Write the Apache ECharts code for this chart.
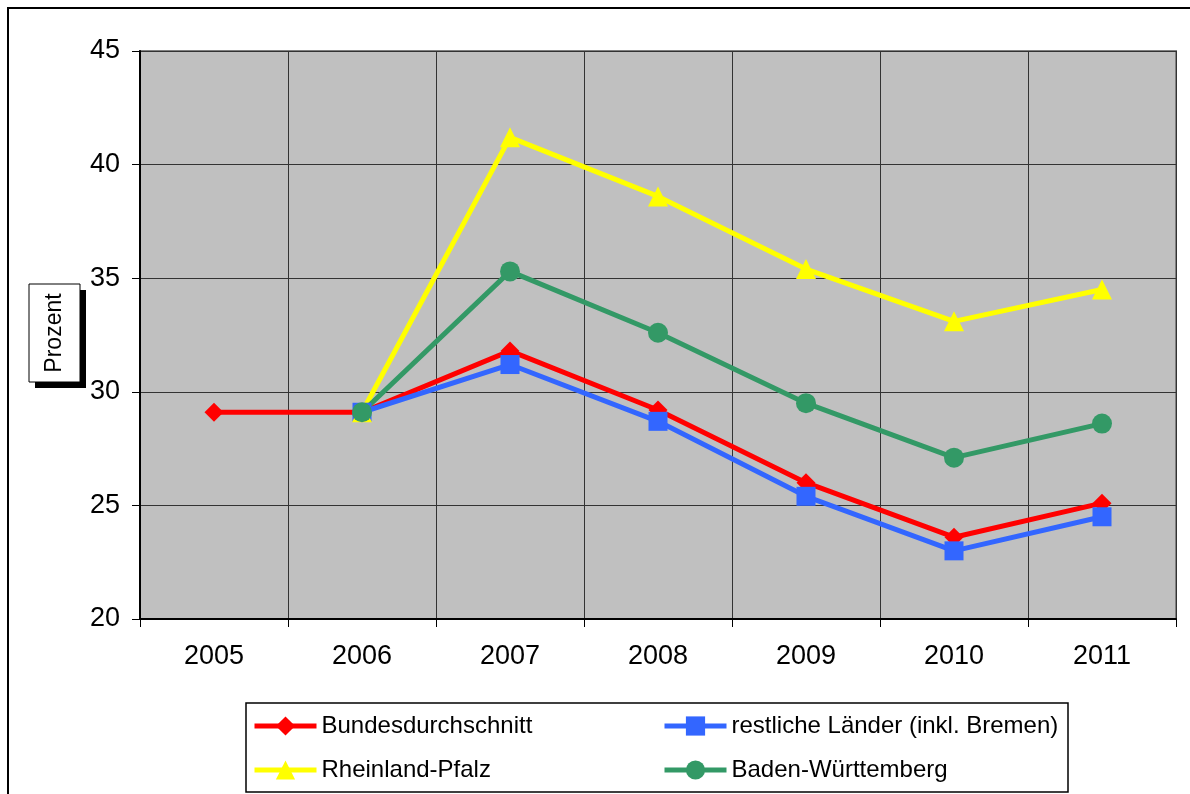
<!DOCTYPE html>
<html>
<head>
<meta charset="utf-8">
<script src="https://cdn.jsdelivr.net/npm/echarts@6/dist/echarts.min.js"></script>
<style>
html,body{margin:0;padding:0;background:#fff;}
#chart{width:1190px;height:794px;}
</style>
</head>
<body>
<div id="chart"></div>
<script>
const years = ['2005','2006','2007','2008','2009','2010','2011'];
const bundesdurchschnitt = [29.1, 29.1, 31.8, 29.2, 26.0, 23.6, 25.1];
const restlicheLaender = [null, 29.1, 31.2, 28.7, 25.4, 23.0, 24.5];
const rheinlandPfalz = [null, 29.1, 41.2, 38.6, 35.4, 33.1, 34.5];
const badenWuerttemberg = [null, 29.1, 35.3, 32.6, 29.5, 27.1, 28.6];
const seriesNames = ['Bundesdurchschnitt','restliche Länder (inkl. Bremen)','Rheinland-Pfalz','Baden-Württemberg'];
const yTicks = {min: 20, max: 45, interval: 5};

const FONT = '"Liberation Sans", Arial, sans-serif';
const chart = echarts.init(document.getElementById('chart'));

function legendAt(name, left, top) {
  return {
    data: [name], left: left, top: top, padding: 0,
    itemWidth: 62, itemHeight: 24, itemGap: 0,
    lineStyle: {width: 5},
    textStyle: {fontFamily: FONT, fontSize: 24, color: '#000'},
    selectedMode: false
  };
}

function mkSeries(name, data, color, symbol, size) {
  return {
    name: name, type: 'line', data: data,
    symbol: symbol, symbolSize: size, showSymbol: true,
    lineStyle: {color: color, width: 5},
    itemStyle: {color: color},
    emphasis: {disabled: true},
    animation: false
  };
}

chart.setOption({
  animation: false,
  backgroundColor: '#fff',
  grid: {left: 140, right: 14, top: 51, bottom: 175, show: true,
         backgroundColor: '#c0c0c0', borderColor: '#808080', borderWidth: 2},
  xAxis: {
    type: 'category', data: years, boundaryGap: true,
    axisLine: {lineStyle: {color: '#000', width: 2}},
    axisTick: {show: true, length: 8, lineStyle: {color: '#000', width: 1}},
    axisLabel: {color: '#000', fontFamily: FONT, fontSize: 27, margin: 24},
    splitLine: {show: true, lineStyle: {color: '#333', width: 1}}
  },
  yAxis: {
    type: 'value', min: yTicks.min, max: yTicks.max, interval: yTicks.interval,
    axisLine: {show: true, lineStyle: {color: '#000', width: 2}},
    axisTick: {show: true, length: 8, lineStyle: {color: '#000', width: 1}},
    axisLabel: {color: '#000', fontFamily: FONT, fontSize: 27, margin: 20},
    splitLine: {show: true, lineStyle: {color: '#333', width: 1}}
  },
  legend: [
    legendAt(seriesNames[0], 252, 714),
    legendAt(seriesNames[1], 662, 714),
    legendAt(seriesNames[2], 252, 758),
    legendAt(seriesNames[3], 662, 758)
  ],
  graphic: [
    {type: 'rect', shape: {x: 8, y: 8, width: 1200, height: 800}, style: {fill: 'none', stroke: '#000', lineWidth: 2}, silent: true, z: -10},
    {type: 'rect', shape: {x: 246, y: 703, width: 822, height: 89}, style: {fill: '#fff', stroke: '#000', lineWidth: 1.5}, silent: true, z: -5},
    {type: 'rect', shape: {x: 35, y: 290, width: 51, height: 98}, style: {fill: '#000'}, silent: true, z: 10},
    {type: 'rect', shape: {x: 29, y: 284, width: 51, height: 98}, style: {fill: '#fff', stroke: '#000', lineWidth: 1}, silent: true, z: 11},
    {type: 'text', x: 55, y: 333, rotation: Math.PI/2, z: 12, silent: true,
     style: {text: 'Prozent', fontFamily: FONT, fontSize: 23, fill: '#000', align: 'center', verticalAlign: 'middle'}}
  ],
  series: [
    mkSeries(seriesNames[0], bundesdurchschnitt, '#ff0000', 'diamond', 19),
    mkSeries(seriesNames[1], restlicheLaender, '#3366ff', 'rect', 19),
    mkSeries(seriesNames[2], rheinlandPfalz, '#ffff00', 'triangle', 20),
    mkSeries(seriesNames[3], badenWuerttemberg, '#339966', 'circle', 20)
  ]
});
</script>
</body>
</html>
